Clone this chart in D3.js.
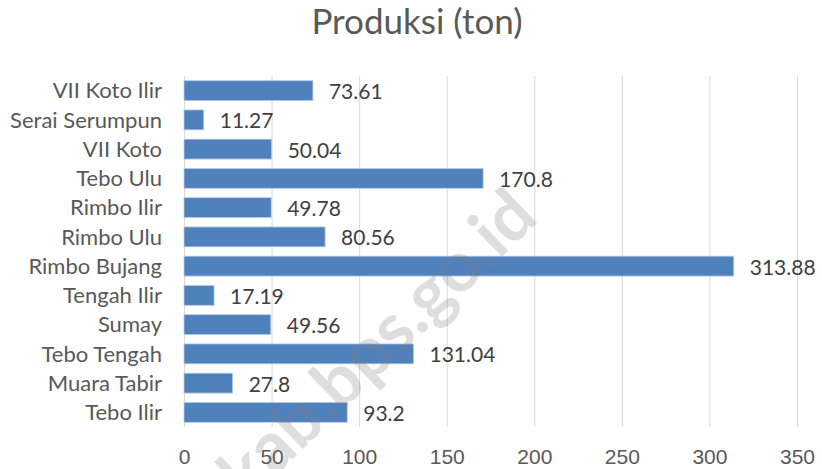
<!DOCTYPE html>
<html>
<head>
	<meta charset="utf-8">
	<title>Produksi (ton)</title>
	<script src="https://d3js.org/d3.v7.min.js"></script>
	<style>
		body {
			margin: 0;
			background-color: #fff;
			font-family: 'Lato', 'Open Sans', sans-serif;
		}
		.grid line {
			stroke: #D9D9D9;
		}
		.grid path {
			display: none;
		}
		.axis path, .axis line {
			display: none;
		}
		.axis text {
			fill: #595959;
			font-size: 21px;
		}
		.cat-label {
			fill: #595959;
			font-size: 22px;
		}
		.bar {
			fill: #4F81BD;
			stroke: #B9CDE5;
			stroke-width: 0.8;
		}
		.value {
			fill: #404040;
			font-size: 21px;
		}
		.title {
			fill: #595959;
			font-size: 35px;
		}
		.watermark {
			fill: #7f7f7f;
			opacity: 0.25;
			font-size: 70px;
			font-weight: bold;
		}
	</style>
</head>

<body>
	<div id="chart"></div>
</body>

<script>
	// Data, read top to bottom off the chart.
	const kecamatan = ['VII Koto Ilir', 'Serai Serumpun', 'VII Koto', 'Tebo Ulu', 'Rimbo Ilir', 'Rimbo Ulu',
		'Rimbo Bujang', 'Tengah Ilir', 'Sumay', 'Tebo Tengah', 'Muara Tabir', 'Tebo Ilir'];
	const produksi = [73.61, 11.27, 50.04, 170.8, 49.78, 80.56, 313.88, 17.19, 49.56, 131.04, 27.8, 93.2];
	const xTicks = [0, 50, 100, 150, 200, 250, 300, 350];

	const rows = kecamatan.map((name, i) => ({name: name, value: produksi[i]}));

	const W = 822, H = 469;
	const margin = {top: 76, right: 25, bottom: 42, left: 184};
	const width = 797 - margin.left;
	const height = H - margin.top - margin.bottom;

	const svg = d3.select('#chart')
		.append('svg')
			.attr('width', W)
			.attr('height', H);

	svg.append('text')
		.attr('class', 'title')
		.attr('x', 417)
		.attr('y', 34)
		.attr('text-anchor', 'middle')
		.text('Produksi (ton)');

	const g = svg.append('g')
		.attr('transform', 'translate(' + margin.left + ',' + margin.top + ')');

	const x = d3.scaleLinear()
		.domain([0, 350])
		.range([0, width]);

	const y = d3.scaleBand()
		.domain(kecamatan)
		.range([0, height])
		.paddingInner(0.32)
		.paddingOuter(0.16);

	// Vertical gridlines.
	g.append('g')
		.attr('class', 'grid')
		.attr('transform', 'translate(0,' + height + ')')
		.call(d3.axisBottom(x).tickValues(xTicks).tickSize(-height).tickFormat(''));

	// X axis labels.
	g.append('g')
		.attr('class', 'axis')
		.attr('transform', 'translate(0,' + height + ')')
		.call(d3.axisBottom(x).tickValues(xTicks).tickSize(0).tickPadding(22))
		.selectAll('text')
			.attr('font-family', null)
			.attr('font-size', null);

	// Category labels.
	g.selectAll('.cat-label')
		.data(rows)
		.enter().append('text')
			.attr('class', 'cat-label')
			.attr('x', -22)
			.attr('y', d => y(d.name) + y.bandwidth() / 2)
			.attr('dy', '0.35em')
			.attr('text-anchor', 'end')
			.text(d => d.name);

	// Bars.
	g.selectAll('.bar')
		.data(rows)
		.enter().append('rect')
			.attr('class', 'bar')
			.attr('x', x(0))
			.attr('y', d => y(d.name))
			.attr('width', d => x(d.value) - x(0))
			.attr('height', y.bandwidth());

	// Value labels.
	g.selectAll('.value')
		.data(rows)
		.enter().append('text')
			.attr('class', 'value')
			.attr('x', d => x(d.value) + 16)
			.attr('y', d => y(d.name) + y.bandwidth() / 2)
			.attr('dy', '0.4em')
			.text(d => d.value);

	// Faint watermark across the plot.
	svg.append('text')
		.attr('class', 'watermark')
		.attr('text-anchor', 'end')
		.attr('transform', 'translate(540,220) rotate(-44)')
		.text('tebokab.bps.go.id');
</script>

</html>
